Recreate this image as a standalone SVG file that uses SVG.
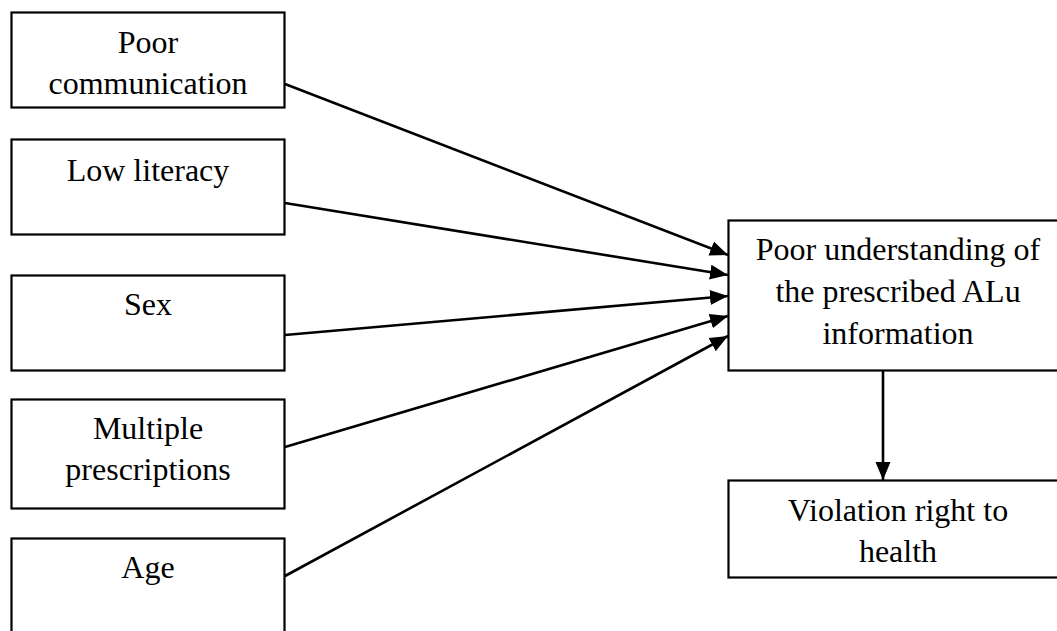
<svg xmlns="http://www.w3.org/2000/svg" width="1057" height="631" viewBox="0 0 1057 631">
<style>
.box{fill:#fff;stroke:#000;stroke-width:2.2}
.t{font-family:"Liberation Serif","Times New Roman",serif;font-size:32px;fill:#000;text-anchor:middle}
.c{stroke:#000;stroke-width:2.6;fill:none;marker-end:url(#ah)}
</style>
<defs>
<marker id="ah" markerUnits="userSpaceOnUse" markerWidth="18" markerHeight="18" viewBox="0 0 18 18" refX="18" refY="9" orient="auto">
<path d="M0,1.5 L18,9 L0,16.5 Z" fill="#000"/>
</marker>
</defs>
<rect width="1057" height="631" fill="#fff"/>
<g id="n1"><rect class="box" x="11.5" y="12.5" width="273" height="95"/>
<text class="t" x="148" y="53">Poor</text><text class="t" x="148" y="94">communication</text></g>
<g id="n2"><rect class="box" x="11.5" y="139.5" width="273" height="95"/>
<text class="t" x="148" y="181">Low literacy</text></g>
<g id="n3"><rect class="box" x="11.5" y="275.5" width="273" height="95"/>
<text class="t" x="148" y="315">Sex</text></g>
<g id="n4"><rect class="box" x="11.5" y="399.5" width="273" height="109"/>
<text class="t" x="148" y="439">Multiple</text><text class="t" x="148" y="480">prescriptions</text></g>
<g id="n5"><rect class="box" x="11.5" y="538.5" width="273" height="110"/>
<text class="t" x="148" y="578">Age</text></g>
<g id="n6"><rect class="box" x="728.5" y="220.5" width="340" height="150"/>
<text class="t" x="898" y="260">Poor understanding of</text><text class="t" x="898" y="302">the prescribed ALu</text><text class="t" x="898" y="344">information</text></g>
<g id="n7"><rect class="box" x="728.5" y="480.5" width="340" height="97"/>
<text class="t" x="898" y="521">Violation right to</text><text class="t" x="898" y="562">health</text></g>
<g id="connectors">
<line class="c" x1="285" y1="84" x2="728" y2="255"/>
<line class="c" x1="285" y1="203" x2="728" y2="275"/>
<line class="c" x1="285" y1="335" x2="728" y2="296"/>
<line class="c" x1="285" y1="447" x2="728" y2="316"/>
<line class="c" x1="285" y1="576" x2="728" y2="336"/>
<line class="c" x1="883" y1="371" x2="883" y2="480"/>
</g>
</svg>
